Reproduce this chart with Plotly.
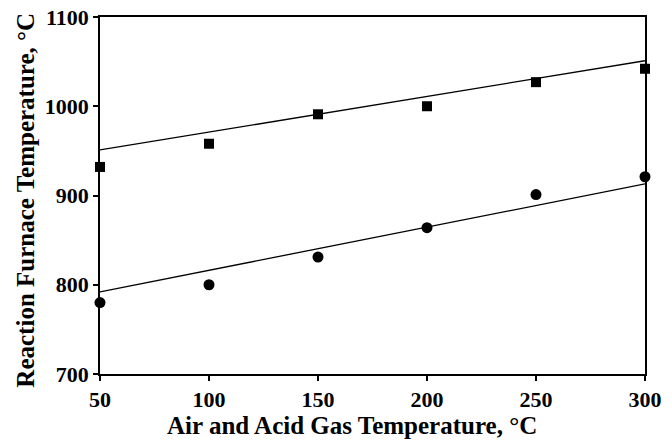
import plotly.graph_objects as go

x_vals = [50, 100, 150, 200, 250, 300]
squares = [932, 958, 991, 1000, 1027, 1042]
circles = [780, 800, 831, 864, 901, 921]
fit_x = [50, 300]
fit_upper = [951, 1051]
fit_lower = [792, 913]

x_title = "Air and Acid Gas Temperature, °C"
y_title = "Reaction Furnace Temperature, °C"

font_family = "Liberation Serif"

fig = go.Figure()
fig.add_trace(go.Scatter(x=fit_x, y=fit_upper, mode="lines",
                         line=dict(color="black", width=1.3), cliponaxis=False))
fig.add_trace(go.Scatter(x=fit_x, y=fit_lower, mode="lines",
                         line=dict(color="black", width=1.3), cliponaxis=False))
fig.add_trace(go.Scatter(x=x_vals, y=squares, mode="markers",
                         marker=dict(symbol="square", size=10, color="black"),
                         cliponaxis=False))
fig.add_trace(go.Scatter(x=x_vals, y=circles, mode="markers",
                         marker=dict(symbol="circle", size=11, color="black"),
                         cliponaxis=False))

fig.update_layout(
    width=672, height=447,
    margin=dict(l=100, r=27, t=17, b=73, autoexpand=False),
    paper_bgcolor="white", plot_bgcolor="white",
    showlegend=False,
    font=dict(family=font_family, color="black", size=16),
    xaxis=dict(range=[50, 300], tickvals=[50, 100, 150, 200, 250, 300],
               ticks="outside", ticklen=5, tickwidth=1.5, tickcolor="black",
               showline=True, linecolor="black", linewidth=1.5, mirror=True,
               showgrid=False, zeroline=False, automargin=False,
               tickfont=dict(family=font_family, size=22, color="black", weight="bold")),
    yaxis=dict(range=[700, 1100], tickvals=[700, 800, 900, 1000, 1100],
               ticks="outside", ticklen=5, tickwidth=1.5, tickcolor="black",
               showline=True, linecolor="black", linewidth=1.5, mirror=True,
               showgrid=False, zeroline=False, automargin=False,
               tickfont=dict(family=font_family, size=22, color="black", weight="bold")),
    annotations=[
        dict(text="<b>" + x_title + "</b>", xref="paper", yref="paper",
             x=0.4633, y=-0.1429, xanchor="center", yanchor="middle",
             showarrow=False, font=dict(family=font_family, size=25, color="black")),
        dict(text="<b>" + y_title + "</b>", xref="paper", yref="paper",
             x=-0.1367, y=0.487, xanchor="center", yanchor="middle", textangle=-90,
             showarrow=False, font=dict(family=font_family, size=25, color="black")),
    ],
)

fig.write_html("out.html")
